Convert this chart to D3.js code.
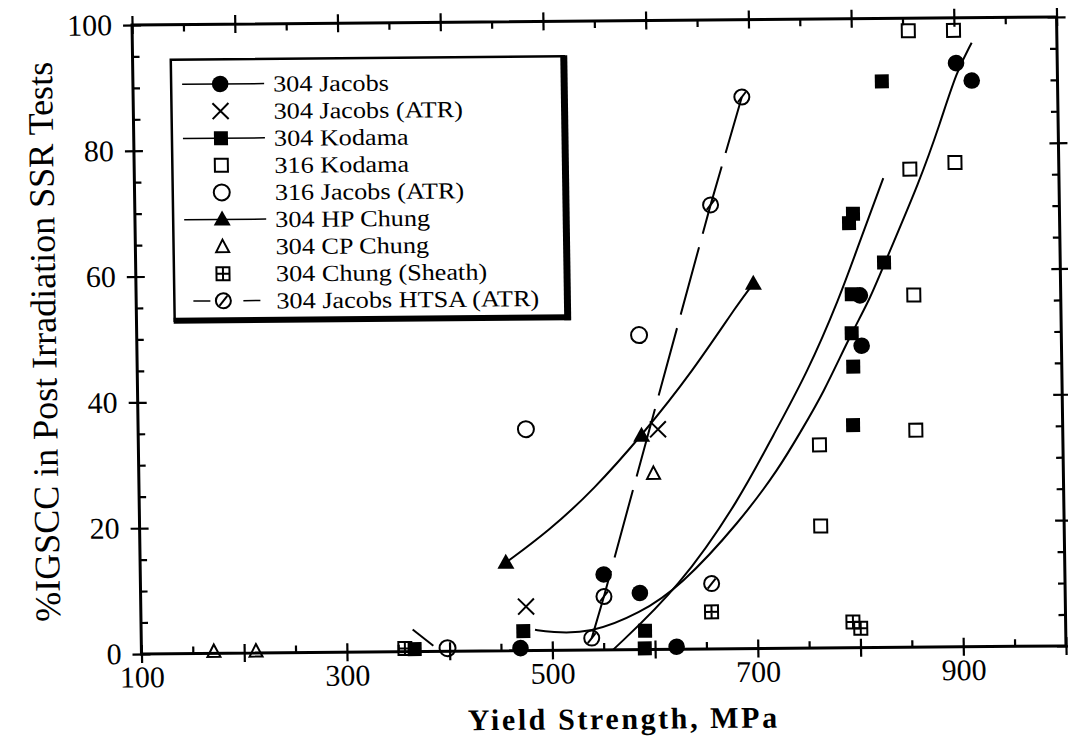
<!DOCTYPE html>
<html><head><meta charset="utf-8">
<script src="https://cdn.jsdelivr.net/npm/d3@7"></script>
<style>
body{margin:0;background:#fff}
svg{display:block}
text{font-family:"Liberation Serif","Times New Roman",serif;fill:#000}
</style>
</head><body>
<svg id="chart" width="1068" height="752"></svg>
<script>
// ---------- data (yield strength MPa, %IGSCC) ----------
const jacobs304      = [[469,0.4],[551,12],[586,9],[621,0.4],[805.5,48],[804.5,56],[901.5,92.8],[916.5,90]];
const jacobsATR304   = [[475,7],[606,35]];
const kodama304      = [[366,0.4],[472,3.1],[590.5,3],[590,0.2],[828.5,61.2],[796.6,56.2],[796,50],[797,44.7],[796,35.4],[829,90],[799,69],[795,67.5]];
const kodama316      = [[855.5,98],[899.5,98],[855,76],[899,77],[857,56],[857,34.5],[763,32.3],[763,19.4]];
const jacobsATR316   = [[589,50],[477.5,35.2],[398,0.5]];
const hpChung304     = [[456,14],[590,34],[701,58]];
const cpChung304     = [[170.5,0.3],[211.5,0.3],[601,28]];
const sheathChung304 = [[655.5,5.9],[793,4.1],[800.5,3.1],[356.5,0.5]];
const htsa304        = [[538.5,1.9],[551,8.5],[656,10.4],[660.5,70.6],[692.5,87.7]];

// fitted trend curves
const fitSteep = [[559,0],[625,9.9],[685,23.9],[718,33.9],[752,43.7],[785,55.8],[802,63.2],[829,74.6]];
const fitU     = [[483.4,3.3],[498,2.9],[537,2.6],[586,5.8],[625,9.9],[684.5,20.2],[724,28.8],[744,34.2],[767.5,40.5],[794,49.5],[814,55.3],[829,61.1],[865,74.3],[885,83.2],[902,91.5],[917,96]];
const fitStub  = [[364.3,3.5],[384.2,0.9]];
const fitHP    = [[456,14],[499,19.1],[542,25.4],[590,34],[640,44],[688,55.4],[701,58]];
const fitHTSA  = [[538.5,1.9],[551,8.5],[660.5,70.6],[692.5,87.7]];

// axes
const xMajor = [100,200,300,400,500,600,700,800,900,1000];
const xLabeled = [100,300,500,700,900];
const xMinor = [150,250,350,450,550,650,750,850,950];
const yMajor = [0,20,40,60,80,100];
const yMinor = [5,10,15,25,30,35,45,50,55,65,70,75,85,90,95];

const legendLabels = ['304 Jacobs','304 Jacobs (ATR)','304 Kodama','316 Kodama','316 Jacobs (ATR)','304 HP Chung','304 CP Chung','304 Chung (Sheath)','304 Jacobs HTSA (ATR)'];
const legendSymbols = ['fcircle','cross','fsquare','osquare','ocircle','ftri','otri','sheath','htsa'];
const legendLines = ['solid','none','solid','none','none','solid','none','none','dash'];

// ---------- drawing ----------
const FONT = '"Liberation Serif","Times New Roman",serif';
const svg = d3.select('#chart');
// the scanned figure is slightly skewed
const g = svg.append('g').attr('transform','matrix(1,-0.0087,0.015,1,-5.07,5.25)');

const x = d3.scaleLinear().domain([100,1000]).range([136.8,1061.3]);
const y = d3.scaleLinear().domain([0,100]).range([649.9,20.9]);

function fixAxis(sel){
  sel.attr('font-family',FONT).attr('font-size',30);
  sel.select('.domain').remove();
  sel.selectAll('.tick line').attr('stroke','#000').attr('stroke-width',2.2);
  sel.selectAll('.tick text').attr('fill','#000');
}
// bottom
const bMaj = g.append('g').attr('transform',`translate(0,${y(0)})`)
  .call(d3.axisBottom(x).tickValues(xMajor).tickSize(9).tickPadding(3).tickFormat(d=>xLabeled.includes(d)?d:''));
fixAxis(bMaj); bMaj.selectAll('.tick line').attr('y1',-9);
fixAxis(g.append('g').attr('transform',`translate(0,${y(0)})`)
  .call(d3.axisBottom(x).tickValues(xMinor).tickSize(-7).tickFormat('')));
// top
const tMaj = g.append('g').attr('transform',`translate(0,${y(100)})`)
  .call(d3.axisTop(x).tickValues(xMajor).tickSize(9).tickFormat(''));
fixAxis(tMaj); tMaj.selectAll('.tick line').attr('y1',9);
fixAxis(g.append('g').attr('transform',`translate(0,${y(100)})`)
  .call(d3.axisTop(x).tickValues(xMinor).tickSize(-7).tickFormat('')));
// left
const lMaj = g.append('g').attr('transform',`translate(${x(100)},0)`)
  .call(d3.axisLeft(y).tickValues(yMajor).tickSize(9).tickPadding(11));
fixAxis(lMaj); lMaj.selectAll('.tick line').attr('x1',9);
fixAxis(g.append('g').attr('transform',`translate(${x(100)},0)`)
  .call(d3.axisLeft(y).tickValues(yMinor).tickSize(-7).tickFormat('')));
// right
const rMaj = g.append('g').attr('transform',`translate(${x(1000)},0)`)
  .call(d3.axisRight(y).tickValues(yMajor).tickSize(9).tickFormat(''));
fixAxis(rMaj); rMaj.selectAll('.tick line').attr('x1',-9);
fixAxis(g.append('g').attr('transform',`translate(${x(1000)},0)`)
  .call(d3.axisRight(y).tickValues(yMinor).tickSize(-7).tickFormat('')));

// frame
g.append('rect').attr('x',x(100)).attr('y',y(100)).attr('width',x(1000)-x(100)).attr('height',y(0)-y(100))
  .attr('fill','none').attr('stroke','#000').attr('stroke-width',3);

// axis titles
g.append('text').attr('x',618).attr('y',729).attr('text-anchor','middle').attr('font-family',FONT)
  .attr('font-size',30).attr('font-weight','bold').attr('letter-spacing','2.6px').text('Yield Strength, MPa');
g.append('text').attr('transform','translate(56,337) rotate(-90)').attr('text-anchor','middle').attr('font-family',FONT)
  .attr('font-size',36).text('%IGSCC in Post Irradiation SSR Tests');

// fit lines
const lineB = d3.line().x(d=>x(d[0])).y(d=>y(d[1])).curve(d3.curveBasis);
const lineL = d3.line().x(d=>x(d[0])).y(d=>y(d[1]));
[fitSteep,fitU,fitHP].forEach(a=>g.append('path').attr('d',lineB(a)).attr('fill','none').attr('stroke','#000').attr('stroke-width',2));
g.append('path').attr('d',lineL(fitStub)).attr('fill','none').attr('stroke','#000').attr('stroke-width',2);
g.append('path').attr('d',lineL(fitHTSA)).attr('fill','none').attr('stroke','#000').attr('stroke-width',2).attr('stroke-dasharray','70,14');

// symbols
function sym(parent,type,cx,cy){
  const s = parent.append('g').attr('transform',`translate(${cx},${cy})`);
  const st = e=>e.attr('fill','none').attr('stroke','#000').attr('stroke-width',2);
  switch(type){
    case 'fcircle': s.append('circle').attr('r',8.3).attr('fill','#000'); break;
    case 'cross': st(s.append('path').attr('d','M-8,-8L8,8M-8,8L8,-8')); break;
    case 'fsquare': s.append('rect').attr('x',-7).attr('y',-7).attr('width',14).attr('height',14).attr('fill','#000'); break;
    case 'osquare': st(s.append('rect').attr('x',-6.5).attr('y',-6.5).attr('width',13).attr('height',13)); break;
    case 'ocircle': st(s.append('circle').attr('r',8)); break;
    case 'ftri': s.append('path').attr('d','M0,-9L8.5,6L-8.5,6Z').attr('fill','#000'); break;
    case 'otri': st(s.append('path').attr('d','M0,-7L6.5,5.5L-6.5,5.5Z')); break;
    case 'sheath': st(s.append('rect').attr('x',-6.5).attr('y',-6.5).attr('width',13).attr('height',13));
                   st(s.append('path').attr('d','M0,-6.5V6.5M-6.5,0H6.5')); break;
    case 'htsa': st(s.append('circle').attr('r',7.5)); st(s.append('path').attr('d','M-4,5L4,-5')); break;
  }
}
const series = [
  [kodama316,'osquare'],[sheathChung304,'sheath'],[jacobsATR316,'ocircle'],[cpChung304,'otri'],
  [htsa304,'htsa'],[jacobsATR304,'cross'],[hpChung304,'ftri'],[kodama304,'fsquare'],[jacobs304,'fcircle']
];
const marks = g.append('g');
series.forEach(([arr,t])=>arr.forEach(d=>sym(marks,t,x(d[0]),y(d[1]))));

// legend
const lg = g.append('g');
const L = {x0:175,y0:56,x1:568,y1:317};
lg.append('rect').attr('x',L.x0).attr('y',L.y0).attr('width',L.x1-L.x0).attr('height',L.y1-L.y0)
  .attr('fill','#fff').attr('stroke','#000').attr('stroke-width',2.5);
lg.append('line').attr('x1',L.x1).attr('x2',L.x1).attr('y1',L.y0-1).attr('y2',L.y1+3).attr('stroke','#000').attr('stroke-width',7);
lg.append('line').attr('x1',L.x0-1).attr('x2',L.x1+3).attr('y1',L.y1).attr('y2',L.y1).attr('stroke','#000').attr('stroke-width',6);
legendLabels.forEach((lab,i)=>{
  const cy = 80.7 + i*27.1, cx = 224;
  if(legendLines[i]==='solid'){
    lg.append('line').attr('x1',186).attr('x2',268).attr('y1',cy).attr('y2',cy).attr('stroke','#000').attr('stroke-width',1.5);
  } else if(legendLines[i]==='dash'){
    lg.append('line').attr('x1',194).attr('x2',211).attr('y1',cy).attr('y2',cy).attr('stroke','#000').attr('stroke-width',1.5);
    lg.append('line').attr('x1',244).attr('x2',261).attr('y1',cy).attr('y2',cy).attr('stroke','#000').attr('stroke-width',1.5);
  }
  sym(lg,legendSymbols[i],cx,cy);
  lg.append('text').attr('transform',`translate(277,${cy}) scale(1.14,1)`).attr('dy','0.35em')
    .attr('font-family',FONT).attr('font-size',23).text(lab);
});
</script>
</body></html>
